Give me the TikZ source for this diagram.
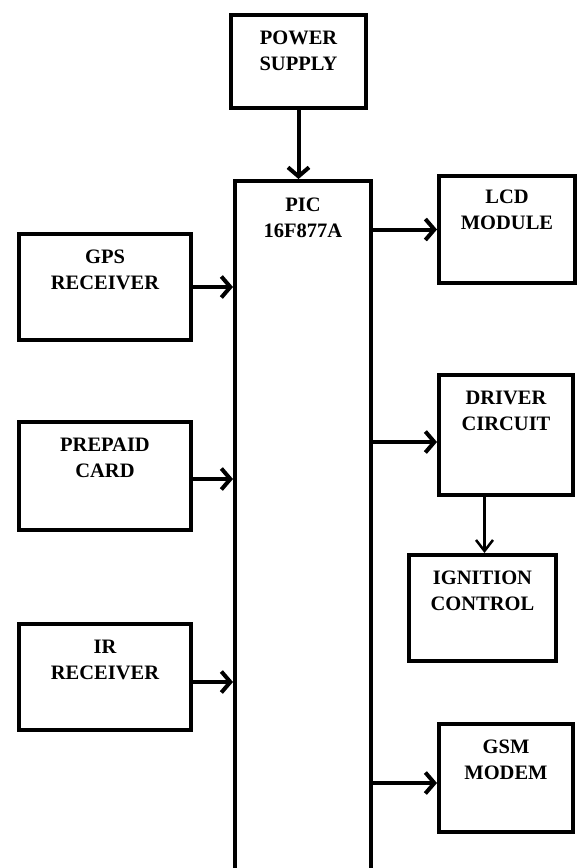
\documentclass[tikz,border=0pt]{standalone}
\usepackage{fontspec}
\setmainfont{Liberation Serif}
\usetikzlibrary{arrows.meta, positioning}

\begin{document}
\begin{tikzpicture}[x=1pt,y=-1pt,
  blk/.style={rectangle,draw=black,line width=4pt,inner sep=0pt},
  txt/.style={align=center,inner sep=0pt,font=\fontsize{20.5}{25.5}\selectfont\bfseries},
  arr/.style={-{Straight Barb[length=9pt,width=21pt]},line width=4pt},
  arrthin/.style={-{Straight Barb[length=11pt,width=17pt]},line width=2.5pt}
]
  \useasboundingbox (0,0) rectangle (580,868);
  % blocks
  \node[blk,minimum width=135pt,minimum height=93pt] (pwr)  at (298.5,61.5) {};
  \node[blk,minimum width=136pt,minimum height=699pt](pic)  at (303,530.5)  {};
  \node[blk,minimum width=136pt,minimum height=107pt](lcd)  at (507,229.5)  {};
  \node[blk,minimum width=172pt,minimum height=106pt](gps)  at (105,287)    {};
  \node[blk,minimum width=172pt,minimum height=108pt](card) at (105,476)    {};
  \node[blk,minimum width=172pt,minimum height=106pt](ir)   at (105,677)    {};
  \node[blk,minimum width=134pt,minimum height=120pt](drv)  at (506,435)    {};
  \node[blk,minimum width=147pt,minimum height=106pt](ign)  at (482.5,608)  {};
  \node[blk,minimum width=134pt,minimum height=108pt](gsm)  at (506,778)    {};

  % labels
  \node[txt,below=18pt of pwr.north]  (pwrt)  {POWER\\SUPPLY};
  \node[txt,below=19pt of pic.north]  (pict)  {PIC\\16F877A};
  \node[txt,below=16pt of lcd.north]  (lcdt)  {LCD\\MODULE};
  \node[txt,below=18pt of gps.north]  (gpst)  {GPS\\RECEIVER};
  \node[txt,below=18pt of card.north] (cardt) {PREPAID\\CARD};
  \node[txt,below=18pt of ir.north]   (irt)   {IR\\RECEIVER};
  \node[txt,below=18pt of drv.north]  (drvt)  {DRIVER\\CIRCUIT};
  \node[txt,below=18pt of ign.north]  (ignt)  {IGNITION\\CONTROL};
  \node[txt,below=18pt of gsm.north]  (gsmt)  {GSM\\MODEM};

  % connections
  \draw[arr] (pwr) -- (pwr |- pic.north);
  \draw[arr] (gps) -- (gps -| pic.west);
  \draw[arr] ([yshift=-3pt]card.east) -- ([yshift=-3pt]card.east -| pic.west);
  \draw[arr] ([yshift=-5pt]ir.east) -- ([yshift=-5pt]ir.east -| pic.west);
  \draw[arr] (lcd -| pic.east) -- (lcd);
  \draw[arr] ([yshift=-7pt]drv.west -| pic.east) -- ([yshift=-7pt]drv.west);
  \draw[arr] ([yshift=-5pt]gsm.west -| pic.east) -- ([yshift=-5pt]gsm.west);
  \draw[arrthin] ([xshift=2pt]ign.north |- drv.south) -- ([xshift=2pt]ign.north);
\end{tikzpicture}
\end{document}
